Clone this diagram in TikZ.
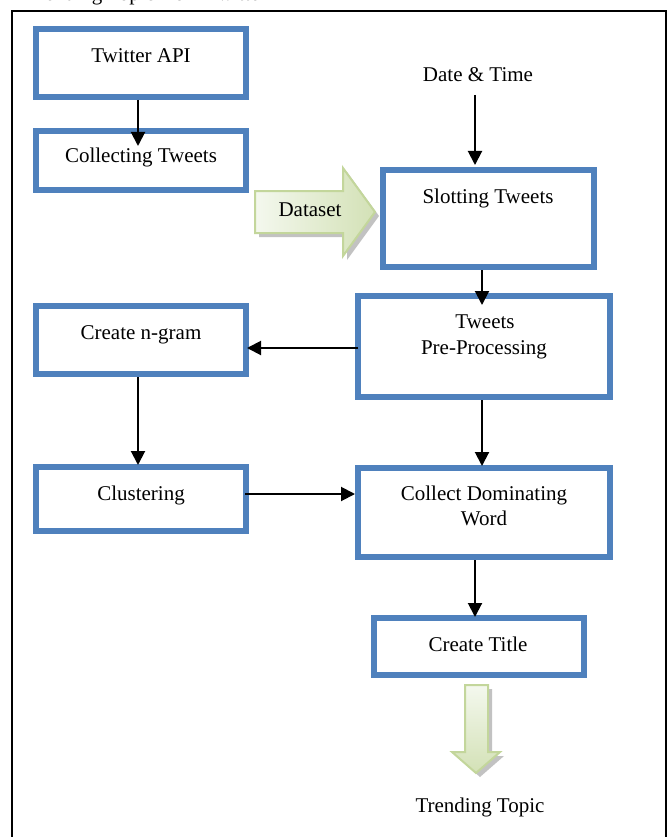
\documentclass[tikz,border=0pt]{standalone}
\usepackage{fontspec}
\setmainfont{Liberation Serif}
\usetikzlibrary{arrows.meta,calc}
\definecolor{boxblue}{HTML}{4F81BD}
\definecolor{arrborder}{HTML}{C3D69B}
\definecolor{arrlight}{HTML}{F4F8EE}
\definecolor{arrdark}{HTML}{D3E1B6}
\begin{document}
\begin{tikzpicture}[x=1pt,y=-1pt,
  box/.style={draw=boxblue,line width=6pt,rectangle,inner sep=0pt,outer sep=0pt},
  txt/.style={inner sep=0pt,outer sep=0pt,anchor=base,font=\fontsize{21}{25}\selectfont},
  arr/.style={line width=2pt,-{Triangle[width=14pt,length=14pt]}},
  blockarr/.style={draw=arrborder,line width=2pt,line join=miter}]
\useasboundingbox (0,0) rectangle (670,837);
\clip (0,0) rectangle (670,837);
% clipped header line
\node[txt,anchor=base west] (hdr) at (26,1) {Trending Topic from Twitter};
% outer frame
\draw[line width=2pt] (12,11) rectangle (666,860);
% boxes
\node[box,minimum width=210pt,minimum height=68pt] (api) at (141,63) {};
\node[box,minimum width=210pt,minimum height=59pt] (collect) at (141,160.5) {};
\node[box,minimum width=211pt,minimum height=97pt] (slot) at (488.5,218.5) {};
\node[box,minimum width=252pt,minimum height=101pt] (pre) at (484,346.5) {};
\node[box,minimum width=210pt,minimum height=68pt] (ngram) at (141,340) {};
\node[box,minimum width=210pt,minimum height=64pt] (clust) at (141,499) {};
\node[box,minimum width=252pt,minimum height=89pt] (dom) at (484,512.5) {};
\node[box,minimum width=210pt,minimum height=57pt] (title) at (479,646.5) {};
% texts
\node[txt] (tapi) at (141,63) {Twitter API};
\node[txt] (tcollect) at (141,163) {Collecting Tweets};
\node[txt] (date) at (478,82) {Date \& Time};
\node[txt] (tslot) at (488,203) {Slotting Tweets};
\node[txt] (tpre1) at (485,328) {Tweets};
\node[txt] (tpre2) at (484,354) {Pre-Processing};
\node[txt] (tngram) at (141,339) {Create n-gram};
\node[txt] (tclust) at (141,500) {Clustering};
\node[txt] (tdom1) at (484,500) {Collect Dominating};
\node[txt] (tdom2) at (484,525) {Word};
\node[txt] (ttitle) at (478,651) {Create Title};
\node[txt] (trend) at (480,812) {Trending Topic};
% Dataset block arrow
\fill[black!40,opacity=0.6] (259,195) -- (347,195) -- (347,172) -- (379,216) -- (347,260) -- (347,237) -- (259,237) -- cycle;
\path[blockarr,left color=arrlight,right color=arrdark]
  (255,191) -- (343,191) -- (343,168) -- (375,212) -- (343,256) -- (343,233) -- (255,233) -- cycle;
\node[txt] (dataset) at (310,216) {Dataset};
% Trending down block arrow
\fill[black!40,opacity=0.6] (469,689) -- (492,689) -- (492,756) -- (504,756) -- (480,777) -- (456,756) -- (469,756) -- cycle;
\path[blockarr,top color=arrlight,bottom color=arrdark]
  (465,685) -- (488,685) -- (488,752) -- (500,752) -- (476,773) -- (452,752) -- (465,752) -- cycle;
% connectors
\draw[arr] ($(api.south)+(-3,3)$) -- ($(collect.north)+(-3,15)$);
\draw[arr] ($(date.base)+(-3,13)$) -- ($(slot.north)+(-13.5,-5)$);
\draw[arr] ($(slot.south)+(-6.5,3)$) -- ($(pre.north)+(-2,9)$);
\draw[arr] ($(pre.west)+(0,1.5)$) -- ($(ngram.east)+(1,8)$);
\draw[arr] ($(ngram.south)+(-3,3)$) -- ($(clust.north)+(-3,-2)$);
\draw[arr] ($(clust.east)+(-1,-5)$) -- ($(dom.west)+(-3,-18.5)$);
\draw[arr] ($(pre.south)+(-2,3)$) -- ($(dom.north)+(-2,-2)$);
\draw[arr] ($(dom.south)+(-9,3)$) -- ($(title.north)+(-4,-1)$);
\end{tikzpicture}
\end{document}
